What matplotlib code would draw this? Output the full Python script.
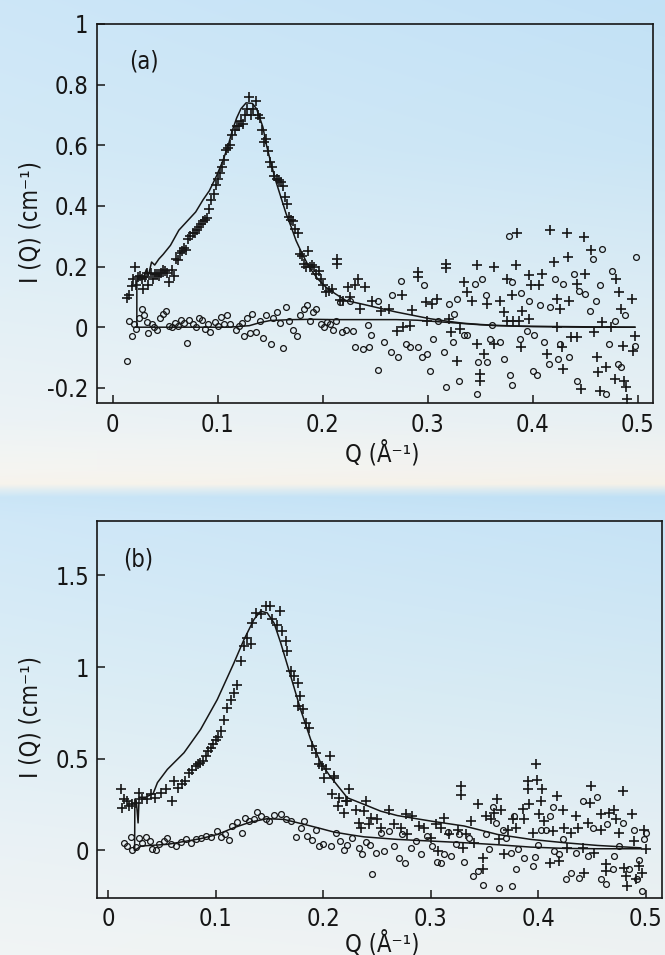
import numpy as np
import matplotlib
matplotlib.use("Agg")
import matplotlib.pyplot as plt
from matplotlib.colors import to_rgb

plt.rcParams['font.family'] = ['DejaVu Sans']
plt.rcParams['font.stretch'] = 'condensed'

# ---------------- DATA ----------------
# Panel (a): "+" series
qa_plus = [0.014, 0.016, 0.018, 0.019, 0.021, 0.022, 0.024, 0.026, 0.028, 0.029, 0.031, 0.033, 0.034,
           0.036, 0.038, 0.040, 0.042, 0.044, 0.046, 0.048, 0.050, 0.052, 0.054, 0.056, 0.058, 0.060,
           0.062, 0.064, 0.066, 0.068, 0.070, 0.072, 0.074, 0.076, 0.078, 0.080, 0.082, 0.084, 0.086,
           0.088, 0.090, 0.092, 0.094, 0.096, 0.098, 0.100, 0.102, 0.104, 0.106, 0.108, 0.110, 0.112,
           0.114, 0.116, 0.118, 0.120, 0.122, 0.124, 0.126, 0.128, 0.130, 0.132, 0.134, 0.136, 0.138,
           0.140, 0.142, 0.144, 0.146, 0.148, 0.150, 0.152, 0.154, 0.156, 0.158, 0.160, 0.162, 0.164,
           0.166, 0.168, 0.170, 0.172, 0.174, 0.176, 0.178, 0.180, 0.182, 0.184, 0.186, 0.188, 0.190,
           0.192, 0.194, 0.196, 0.198, 0.200, 0.203, 0.206, 0.209, 0.2138, 0.2138, 0.216, 0.219,
           0.224, 0.226, 0.231, 0.2337, 0.235, 0.240, 0.247, 0.255, 0.263, 0.271, 0.275, 0.276, 0.283,
           0.285, 0.291, 0.291, 0.298, 0.299, 0.304, 0.309, 0.317, 0.317, 0.320, 0.322, 0.328, 0.331,
           0.334, 0.337, 0.342, 0.347, 0.347, 0.350, 0.350, 0.353, 0.356, 0.363, 0.363, 0.369, 0.372,
           0.375, 0.375, 0.380, 0.381, 0.3844, 0.384, 0.387, 0.389, 0.390, 0.396, 0.396, 0.398, 0.406,
           0.409, 0.413, 0.4167, 0.420, 0.423, 0.423, 0.426, 0.428, 0.429, 0.4325, 0.433, 0.434, 0.436,
           0.442, 0.442, 0.446, 0.449, 0.450, 0.455, 0.458, 0.461, 0.462, 0.464, 0.466, 0.4695, 0.474,
           0.478, 0.479, 0.482, 0.484, 0.4855, 0.487, 0.489, 0.490, 0.494, 0.4955, 0.497]
ia_plus = [0.095, 0.105, 0.135, 0.160, 0.200, 0.140, 0.165, 0.170, 0.160, 0.125, 0.165, 0.180, 0.140,
           0.180, 0.160, 0.175, 0.175, 0.170, 0.180, 0.190, 0.185, 0.180, 0.150, 0.190, 0.170, 0.225,
           0.220, 0.245, 0.250, 0.260, 0.255, 0.290, 0.300, 0.310, 0.310, 0.320, 0.330, 0.340, 0.350,
           0.355, 0.360, 0.390, 0.420, 0.440, 0.470, 0.490, 0.510, 0.530, 0.550, 0.585, 0.590, 0.600,
           0.635, 0.650, 0.665, 0.665, 0.680, 0.670, 0.700, 0.720, 0.760, 0.700, 0.720, 0.745, 0.700,
           0.690, 0.650, 0.610, 0.620, 0.580, 0.545, 0.530, 0.500, 0.490, 0.485, 0.480, 0.465, 0.430,
           0.405, 0.365, 0.355, 0.350, 0.325, 0.310, 0.240, 0.235, 0.210, 0.200, 0.250, 0.200, 0.205,
           0.200, 0.175, 0.185, 0.160, 0.140, 0.115, 0.120, 0.127, 0.226, 0.210, 0.090, 0.088,
           0.132, 0.099, 0.138, 0.160, 0.061, 0.132, 0.088, 0.055, 0.061, -0.011, 0.105, 0.000, 0.005,
           0.057, 0.182, 0.165, 0.083, 0.022, 0.077, 0.094, 0.209, 0.195, 0.027, -0.016, -0.110, -0.005,
           0.149, 0.116, 0.088, 0.204, -0.055, -0.154, -0.176, -0.088, 0.077, 0.198, -0.055, 0.088, 0.050,
           0.160, 0.022, 0.105, 0.022, 0.311, 0.204, 0.022, -0.066, 0.055, 0.171, 0.028, 0.138, 0.138,
           0.176, -0.088, 0.319, 0.215, 0.094, 0.000, 0.061, -0.066, -0.138, 0.311, 0.232, 0.088, -0.033,
           -0.033, 0.143, -0.204, 0.297, 0.176, 0.253, -0.016, -0.099, -0.149, -0.209, 0.017, -0.132, 0.000,
           -0.171, 0.160, 0.116, 0.061, -0.061, -0.176, -0.198, -0.237, 0.094, -0.077, -0.028]

# Panel (a): "o" series
qa_circ = [0.0133, 0.016, 0.018, 0.020, 0.022, 0.025, 0.0276, 0.030, 0.033, 0.034, 0.037, 0.039, 0.042,
           0.045, 0.048, 0.051, 0.054, 0.056, 0.059, 0.062, 0.065, 0.068, 0.071, 0.073, 0.076, 0.079,
           0.082, 0.085, 0.088, 0.091, 0.093, 0.097, 0.100, 0.103, 0.106, 0.109, 0.112, 0.117, 0.120,
           0.123, 0.125, 0.128, 0.131, 0.133, 0.136, 0.140, 0.143, 0.146, 0.151, 0.153, 0.156, 0.159,
           0.162, 0.165, 0.168, 0.172, 0.175, 0.178, 0.182, 0.185, 0.188, 0.191, 0.194, 0.198, 0.201,
           0.204, 0.207, 0.210, 0.213, 0.2166, 0.218, 0.222, 0.226, 0.229, 0.2305, 0.2385, 0.243, 0.244,
           0.246, 0.253, 0.253, 0.258, 0.265, 0.266, 0.272, 0.274, 0.279, 0.283, 0.291, 0.294, 0.296,
           0.299, 0.302, 0.305, 0.310, 0.315, 0.317, 0.320, 0.324, 0.325, 0.328, 0.330, 0.334, 0.337,
           0.345, 0.347, 0.348, 0.352, 0.355, 0.356, 0.359, 0.361, 0.369, 0.372, 0.377, 0.378, 0.380,
           0.380, 0.388, 0.389, 0.394, 0.396, 0.400, 0.401, 0.404, 0.407, 0.4105, 0.415, 0.416, 0.421,
           0.424, 0.426, 0.429, 0.434, 0.439, 0.442, 0.444, 0.450, 0.454, 0.457, 0.460, 0.464, 0.466,
           0.470, 0.472, 0.475, 0.478, 0.481, 0.484, 0.488, 0.497, 0.4984]
ia_circ = [-0.112, 0.022, -0.030, 0.012, -0.005, 0.030, 0.061, 0.040, 0.018, -0.018, 0.010, 0.000, -0.010,
           0.030, 0.045, 0.055, 0.005, 0.000, 0.015, 0.005, 0.025, 0.015, -0.052, 0.024, 0.010, 0.000,
           0.030, 0.024, -0.005, 0.010, -0.015, 0.018, 0.005, 0.035, 0.010, 0.039, 0.010, -0.010, 0.005,
           0.015, -0.030, 0.030, -0.020, 0.045, -0.015, 0.020, -0.037, 0.040, -0.054, 0.030, 0.050, 0.015,
           -0.070, 0.066, 0.020, -0.010, -0.030, 0.040, 0.060, 0.074, 0.020, 0.050, 0.061, 0.010, 0.000,
           0.018, 0.011, -0.008, 0.020, 0.083, -0.016, -0.008, 0.088, -0.011, -0.066, -0.071, 0.006, -0.066,
           -0.027, -0.141, 0.088, -0.049, -0.082, 0.105, -0.099, 0.152, -0.055, -0.064, -0.064, -0.099, 0.138,
           -0.088, -0.145, -0.038, 0.022, -0.082, -0.198, 0.077, -0.049, 0.044, 0.094, -0.176, -0.027, -0.027,
           0.143, -0.220, -0.116, 0.160, 0.105, -0.116, -0.038, 0.006, -0.049, -0.104, 0.300, -0.159, -0.189,
           0.149, -0.038, 0.113, -0.011, 0.088, -0.143, -0.027, -0.159, 0.072, -0.049, -0.121, 0.066, 0.160,
           -0.104, -0.055, 0.143, -0.099, 0.176, -0.176, 0.121, 0.110, 0.055, 0.226, 0.088, 0.138, 0.259,
           -0.220, -0.055, 0.185, 0.022, -0.121, -0.132, 0.039, -0.061, 0.231]

# Panel (a): fitted curves
qa_fit1 = [0.023, 0.023, 0.026, 0.029, 0.032, 0.034, 0.037, 0.040, 0.044, 0.048, 0.055, 0.063, 0.071,
           0.079, 0.086, 0.092, 0.099, 0.105, 0.110, 0.114, 0.118, 0.122, 0.127, 0.133, 0.137, 0.1396,
           0.143, 0.146, 0.150, 0.155, 0.160, 0.165, 0.170, 0.1745, 0.180, 0.187, 0.195, 0.203, 0.212,
           0.222, 0.239, 0.255, 0.270, 0.286, 0.302, 0.318, 0.334, 0.350, 0.366, 0.382, 0.398, 0.430,
           0.460, 0.497]
ia_fit1 = [0.000, 0.150, 0.170, 0.160, 0.190, 0.170, 0.215, 0.205, 0.225, 0.240, 0.270, 0.320, 0.350,
           0.380, 0.420, 0.450, 0.500, 0.550, 0.600, 0.650, 0.690, 0.720, 0.740, 0.738, 0.720, 0.694,
           0.660, 0.606, 0.550, 0.485, 0.430, 0.375, 0.330, 0.286, 0.245, 0.198, 0.160, 0.132, 0.110,
           0.088, 0.075, 0.062, 0.050, 0.039, 0.028, 0.020, 0.013, 0.009, 0.006, 0.004, 0.003, 0.002,
           0.001, 0.000]
qa_fit2 = [0.023, 0.050, 0.080, 0.110, 0.130, 0.140, 0.150, 0.170, 0.190, 0.210, 0.240, 0.270, 0.290,
           0.310, 0.334, 0.350, 0.366, 0.400, 0.450, 0.497]
ia_fit2 = [0.000, 0.000, 0.000, 0.000, 0.005, 0.015, 0.022, 0.025, 0.026, 0.025, 0.025, 0.025, 0.023,
           0.018, 0.012, 0.008, 0.005, 0.002, 0.000, 0.000]

# Panel (b): "+" series
qb_plus = [0.0118, 0.0134, 0.015, 0.018, 0.020, 0.0226, 0.0257, 0.0288, 0.032, 0.0366, 0.0397, 0.044,
           0.049, 0.0536, 0.0598, 0.061, 0.065, 0.069, 0.072, 0.0753, 0.078, 0.0815, 0.084, 0.086, 0.088,
           0.091, 0.093, 0.0954, 0.098, 0.100, 0.102, 0.1047, 0.1078, 0.111, 0.114, 0.117, 0.120, 0.1233,
           0.1264, 0.1295, 0.1326, 0.134, 0.1372, 0.1419, 0.1465, 0.151, 0.1527, 0.157, 0.1595, 0.1614,
           0.165, 0.1667, 0.170, 0.173, 0.1762, 0.177, 0.1785, 0.181, 0.1837, 0.187, 0.190, 0.193, 0.1961,
           0.1992, 0.2008, 0.2023, 0.2063, 0.2085, 0.210, 0.2101, 0.2138, 0.2147, 0.2194, 0.2209, 0.2224,
           0.224, 0.2302, 0.2333, 0.2349, 0.238, 0.2395, 0.2426, 0.2442, 0.2504, 0.2535, 0.2612, 0.2659,
           0.2721, 0.2767, 0.2783, 0.283, 0.2892, 0.2939, 0.3001, 0.3047, 0.3063, 0.3094, 0.3125, 0.3172,
           0.3249, 0.328, 0.328, 0.3295, 0.3326, 0.3373, 0.3404, 0.3435, 0.3481, 0.3481, 0.3512, 0.3559,
           0.359, 0.362, 0.3636, 0.3652, 0.3676, 0.3714, 0.376, 0.3791, 0.3853, 0.3869, 0.390, 0.390,
           0.3915, 0.3946, 0.3977, 0.3983, 0.4008, 0.4023, 0.403, 0.4055, 0.4105, 0.4132, 0.4172, 0.4194,
           0.4225, 0.424, 0.427, 0.4302, 0.4349, 0.4364, 0.441, 0.4426, 0.4457, 0.4482, 0.4488, 0.4519,
           0.458, 0.458, 0.4627, 0.4627, 0.4658, 0.4705, 0.472, 0.4751, 0.4782, 0.4797, 0.4813, 0.4828,
           0.4874, 0.489, 0.4905, 0.4936, 0.4967, 0.4983, 0.4999]
ib_plus = [0.333, 0.232, 0.278, 0.269, 0.240, 0.251, 0.260, 0.314, 0.278, 0.278, 0.305, 0.287,
           0.314, 0.333, 0.269, 0.378, 0.342, 0.360, 0.380, 0.424, 0.440, 0.460, 0.470, 0.478, 0.490,
           0.515, 0.540, 0.560, 0.580, 0.605, 0.620, 0.651, 0.714, 0.778, 0.823, 0.860, 0.905, 1.033,
           1.115, 1.160, 1.124, 1.241, 1.296, 1.287, 1.332, 1.332, 1.260, 1.232, 1.305, 1.196,
           1.142, 1.087, 0.978, 0.951, 0.787, 0.914, 0.841, 0.769, 0.696, 0.669, 0.569, 0.533, 0.469,
           0.460, 0.397, 0.442, 0.515, 0.305, 0.406, 0.396, 0.242, 0.287, 0.205, 0.269, 0.269,
           0.333, 0.223, 0.151, 0.124, 0.214, 0.269, 0.142, 0.178, 0.169, 0.124, 0.223, 0.142,
           0.124, 0.196, 0.087, 0.187, 0.133, 0.124, 0.069, 0.142, -0.004, 0.124, 0.178, 0.087,
           0.114, 0.354, 0.300, 0.014, 0.087, 0.160, 0.042, 0.251, -0.040, -0.104, 0.187, 0.169,
           0.205, 0.283, 0.060, 0.223, -0.022, 0.114, 0.169, 0.124, 0.227, 0.169, 0.378, 0.336,
           0.251, 0.096, 0.474, 0.383, 0.196, 0.269, 0.336, 0.160, -0.071, 0.105, 0.296, -0.058,
           0.223, 0.124, 0.014, 0.096, 0.187, 0.124, 0.014, -0.122, 0.151, 0.260, 0.351, -0.013,
           0.196, 0.114, -0.076, -0.113, 0.205, 0.223, 0.169, 0.096, 0.324, -0.094, -0.140, -0.195,
           0.196, 0.050, -0.158, -0.085, -0.122, 0.114, 0.005]

# Panel (b): "o" series
qb_circ = [0.015, 0.018, 0.0217, 0.0226, 0.0257, 0.0288, 0.032, 0.035, 0.039, 0.0412, 0.0443, 0.0474,
           0.052, 0.0552, 0.0583, 0.063, 0.0676, 0.0722, 0.0768, 0.0815, 0.0861, 0.0908, 0.0954, 0.101,
           0.1047, 0.1084, 0.1124, 0.1155, 0.120, 0.1248, 0.127, 0.131, 0.1357, 0.1388, 0.1419, 0.1465,
           0.1496, 0.1543, 0.1605, 0.1651, 0.1698, 0.1744, 0.179, 0.1822, 0.1853, 0.190, 0.1931, 0.1961,
           0.2002, 0.207, 0.2116, 0.2157, 0.2194, 0.2225, 0.2271, 0.2333, 0.2364, 0.2395, 0.2435, 0.2457,
           0.2488, 0.2535, 0.2566, 0.2612, 0.2659, 0.2705, 0.2736, 0.2758, 0.2813, 0.286, 0.2907, 0.2969,
           0.3016, 0.3056, 0.3094, 0.3125, 0.3156, 0.3187, 0.3234, 0.3264, 0.3311, 0.3357, 0.3397, 0.3435,
           0.3481, 0.3512, 0.3543, 0.3574, 0.3605, 0.3636, 0.3667, 0.3698, 0.3745, 0.3754, 0.3776, 0.3791,
           0.3807, 0.3869, 0.3946, 0.3968, 0.3993, 0.4023, 0.407, 0.411, 0.4132, 0.4147, 0.4194, 0.4225,
           0.4256, 0.4302, 0.4349, 0.438, 0.441, 0.4457, 0.4503, 0.4543, 0.458, 0.4627, 0.4642, 0.4689,
           0.4705, 0.4751, 0.4782, 0.4843, 0.489, 0.4921, 0.4936, 0.4967, 0.4983, 0.4999]
ib_circ = [0.042, 0.024, 0.075, 0.000, 0.018, 0.069, 0.042, 0.075, 0.051, 0.009, 0.002, 0.033,
           0.051, 0.069, 0.033, 0.024, 0.045, 0.064, 0.042, 0.064, 0.069, 0.078, 0.075, 0.105,
           0.075, 0.087, 0.056, 0.133, 0.155, 0.096, 0.178, 0.160, 0.169, 0.211, 0.187, 0.169,
           0.160, 0.191, 0.200, 0.173, 0.160, 0.075, 0.124, 0.160, 0.078, 0.056, 0.110, 0.024,
           0.033, 0.024, 0.096, 0.051, 0.000, 0.027, 0.069, 0.014, -0.017, 0.045, 0.027, -0.126,
           -0.013, 0.096, -0.004, 0.105, 0.024, -0.040, 0.087, -0.071, 0.014, 0.051, -0.022, 0.078,
           0.024, -0.064, -0.071, -0.022, 0.100, -0.031, 0.033, 0.087, -0.064, 0.069, -0.140, -0.113,
           -0.190, 0.087, 0.005, 0.238, 0.151, -0.204, 0.114, 0.069, -0.013, -0.195, 0.187, -0.100,
           0.005, -0.040, -0.085, -0.035, 0.027, 0.114, 0.114, 0.187, 0.238, -0.004, -0.022, 0.060,
           -0.154, -0.122, -0.013, -0.149, 0.269, -0.031, 0.124, 0.291, -0.154, -0.185, 0.142, -0.104,
           -0.031, 0.024, 0.151, -0.104, 0.114, -0.158, -0.053, -0.222, 0.060, 0.096]

# Panel (b): fitted curves
qb_fit1 = [0.0248, 0.025, 0.0265, 0.028, 0.029, 0.035, 0.042, 0.046, 0.0552, 0.0707, 0.0861, 0.1016,
           0.1171, 0.1264, 0.1357, 0.1419, 0.148, 0.1543, 0.1605, 0.1698, 0.179, 0.1884, 0.1977, 0.207,
           0.2225, 0.238, 0.2535, 0.269, 0.3001, 0.3311, 0.3621, 0.3931, 0.424, 0.455, 0.4952]
ib_fit1 = [0.000, 0.280, 0.260, 0.150, 0.290, 0.290, 0.310, 0.370, 0.442, 0.533, 0.660, 0.823,
           1.023, 1.150, 1.260, 1.305, 1.296, 1.241, 1.133, 0.951, 0.769, 0.605, 0.478, 0.400,
           0.287, 0.251, 0.214, 0.190, 0.160, 0.133, 0.087, 0.060, 0.042, 0.027, 0.014]
qb_fit2 = [0.0248, 0.031, 0.0552, 0.0861, 0.1016, 0.1171, 0.1326, 0.148, 0.1636, 0.179, 0.1946, 0.210,
           0.2255, 0.238, 0.269, 0.300, 0.331, 0.362, 0.393, 0.424, 0.455, 0.495]
ib_fit2 = [0.000, 0.024, 0.033, 0.064, 0.087, 0.124, 0.155, 0.173, 0.169, 0.147, 0.124, 0.100,
           0.085, 0.074, 0.060, 0.051, 0.042, 0.031, 0.018, 0.011, 0.009, 0.009]

# Tick labels
x_ticks = [0, 0.1, 0.2, 0.3, 0.4, 0.5]
x_labels = ['0', '0.1', '0.2', '0.3', '0.4', '0.5']
ya_ticks = [-0.2, 0, 0.2, 0.4, 0.6, 0.8, 1]
ya_labels = ['-0.2', '0', '0.2', '0.4', '0.6', '0.8', '1']
yb_ticks = [0, 0.5, 1, 1.5]
yb_labels = ['0', '0.5', '1', '1.5']

# ---------------- FIGURE ----------------
W, H = 665, 955
fig = plt.figure(figsize=(W / 100, H / 100), dpi=100)

# background gradient
bg = fig.add_axes([0, 0, 1, 1], zorder=-10)
stops_y = [0, 150, 300, 420, 450, 470, 484, 490, 497, 520, 700, 850, 955]
stops_c = ['#c2e1f6', '#cae5f5', '#dcecf4', '#e8f0f3', '#eff2f1', '#f3f2ee', '#f5f1e8', '#d9e9f0',
           '#bfe0f5', '#c6e3f6', '#d6eaf3', '#e6eff3', '#eef2f2']
yy = np.arange(H)
cols = np.array([to_rgb(c) for c in stops_c])
prof = np.stack([np.interp(yy, stops_y, cols[:, k]) for k in range(3)], axis=1)
xx = np.linspace(0, 1, W)
img = prof[:, None, :] * np.ones((1, W, 1))
lighten = (0.18 * (1 - xx))[None, :, None] * np.ones((H, 1, 1))
img = img + (1 - img) * lighten
bg.imshow(img, aspect='auto', extent=[0, 1, 0, 1], origin='upper')
bg.set_axis_off()

ink = '#161616'


def style_axes(ax, yt, yl):
    ax.set_facecolor('none')
    for s in ax.spines.values():
        s.set_linewidth(1.2)
        s.set_color(ink)
    ax.set_xticks(x_ticks)
    ax.set_xticklabels(x_labels)
    ax.set_yticks(yt)
    ax.set_yticklabels(yl)
    ax.tick_params(direction='in', length=6, width=1.1, colors=ink, labelsize=17,
                   top=False, right=False)
    ax.tick_params(axis='x', pad=7)
    ax.tick_params(axis='y', pad=6)


def draw(ax, qp, ip, qc, ic, qf1, if1, qf2, if2):
    ax.plot(qf1, if1, '-', color=ink, lw=1.1, zorder=3)
    ax.plot(qf2, if2, '-', color=ink, lw=1.1, zorder=3)
    ax.plot(qc, ic, 'o', ms=4.2, mfc='none', mec=ink, mew=0.9, ls='none', zorder=2)
    ax.plot(qp, ip, '+', ms=7, mec=ink, mew=1.2, ls='none', zorder=2)


# Panel (a)
axa = fig.add_axes([96.5 / W, 1 - 403 / H, (653 - 96.5) / W, (403 - 24) / H])
draw(axa, qa_plus, ia_plus, qa_circ, ia_circ, qa_fit1, ia_fit1, qa_fit2, ia_fit2)
axa.set_xlim(-0.0154, 0.5143)
axa.set_ylim(-0.25, 1.0)
style_axes(axa, ya_ticks, ya_labels)
axa.set_ylabel('I (Q) (cm⁻¹)', fontsize=17, color=ink)
axa.yaxis.set_label_coords(-0.097, 0.478)
axa.set_xlabel('Q (Å⁻¹)', fontsize=17, color=ink)
axa.xaxis.set_label_coords(0.513, -0.098)
axa.text(0.085, 0.90, '(a)', transform=axa.transAxes, fontsize=17, color=ink,
         ha='center', va='center')

# Panel (b)
axb = fig.add_axes([97.3 / W, 1 - 897.7 / H, (661.7 - 97.3) / W, (897.7 - 521) / H])
draw(axb, qb_plus, ib_plus, qb_circ, ib_circ, qb_fit1, ib_fit1, qb_fit2, ib_fit2)
axb.set_xlim(-0.0099, 0.5146)
axb.set_ylim(-0.258, 1.797)
style_axes(axb, yb_ticks, yb_labels)
axb.set_ylabel('I (Q) (cm⁻¹)', fontsize=17, color=ink)
axb.yaxis.set_label_coords(-0.097, 0.48)
axb.set_xlabel('Q (Å⁻¹)', fontsize=17, color=ink)
axb.xaxis.set_label_coords(0.504, -0.086)
axb.text(0.072, 0.899, '(b)', transform=axb.transAxes, fontsize=17, color=ink,
         ha='center', va='center')

fig.savefig('out.png', dpi=100)
